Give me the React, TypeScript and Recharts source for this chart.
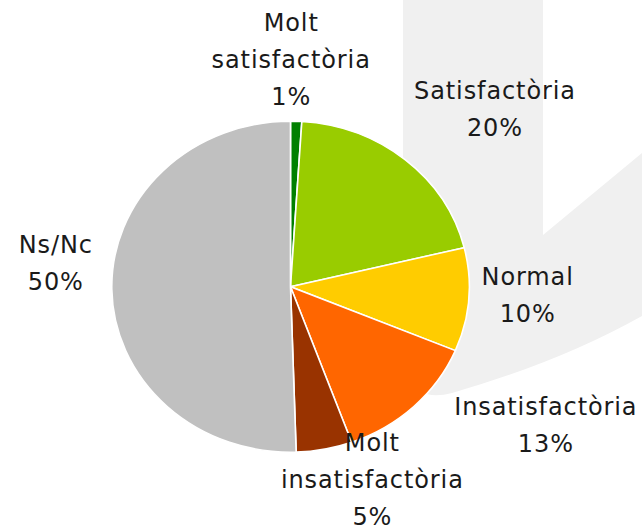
import React from 'react';
import { PieChart, Pie, Cell } from 'recharts';

const categories = [
  'Molt satisfactòria',
  'Satisfactòria',
  'Normal',
  'Insatisfactòria',
  'Molt insatisfactòria',
  'Ns/Nc',
];
const labelLines = [
  ['Molt', 'satisfactòria'],
  ['Satisfactòria'],
  ['Normal'],
  ['Insatisfactòria'],
  ['Molt', 'insatisfactòria'],
  ['Ns/Nc'],
];
const values = [1, 20, 10, 13, 5, 50];
const colors = ['#008000', '#99CC00', '#FFCC00', '#FF6600', '#993300', '#C0C0C0'];

// label layout offsets relative to the slice's outer-edge anchor point
const labelOffsets = [
  [-5, -62],
  [89.6, -51.4],
  [59, -5],
  [132, 18.5],
  [48, 30],
  [-56, -26],
];

const W = 642;
const H = 532;
const CX = 290.5;
const CY = 286.7;
const R = 165.5;
const SCALE_X = 1.08;
const LINE_H = 37;

const data = categories.map((name, i) => ({ name, value: values[i] }));

const renderLabel = (props: any) => {
  const { cx, cy, midAngle, outerRadius, index } = props;
  const rad = Math.PI / 180;
  const ax = cx + SCALE_X * outerRadius * Math.cos(-midAngle * rad);
  const ay = cy + outerRadius * Math.sin(-midAngle * rad);
  const [dx, dy] = labelOffsets[index];
  const tx = ax + dx;
  const ty = ay + dy;
  const lines = [...labelLines[index], `${values[index]}%`];
  const first = ty + 8.5 - ((lines.length - 1) * LINE_H) / 2;
  return (
    <text
      key={`lbl-${index}`}
      textAnchor="middle"
      fontFamily="'DejaVu Sans', sans-serif"
      fontSize={24}
      letterSpacing={0.9}
      fill="#1a1a1a"
    >
      {lines.map((l, i) => (
        <tspan key={i} x={tx} y={first + i * LINE_H}>
          {l}
        </tspan>
      ))}
    </text>
  );
};

export default function App() {
  return (
    <div style={{ position: 'absolute', left: 0, top: 0, width: W, height: H, background: '#ffffff' }}>
      <style>{`.recharts-sector{transform-origin:${CX}px ${CY}px;transform:scaleX(${SCALE_X});}`}</style>
      <svg width={W} height={H} style={{ position: 'absolute', left: 0, top: 0 }}>
        <path
          d="M403,0 L543,0 L543,235 L642,153 L642,316 Q560,362 452,393 Q418,402 408,375 L403,340 Z"
          fill="#f0f0f0"
        />
      </svg>
      <div style={{ position: 'absolute', left: 0, top: 0 }}>
        <PieChart width={W} height={H} margin={{ top: 0, right: 0, bottom: 0, left: 0 }}>
          <Pie
            data={data}
            dataKey="value"
            nameKey="name"
            cx={CX}
            cy={CY}
            outerRadius={R}
            startAngle={90}
            endAngle={-270}
            stroke="#ffffff"
            strokeWidth={1.5}
            label={renderLabel}
            labelLine={false}
            isAnimationActive={false}
          >
            {data.map((d, i) => (
              <Cell key={d.name} fill={colors[i]} />
            ))}
          </Pie>
        </PieChart>
      </div>
    </div>
  );
}
